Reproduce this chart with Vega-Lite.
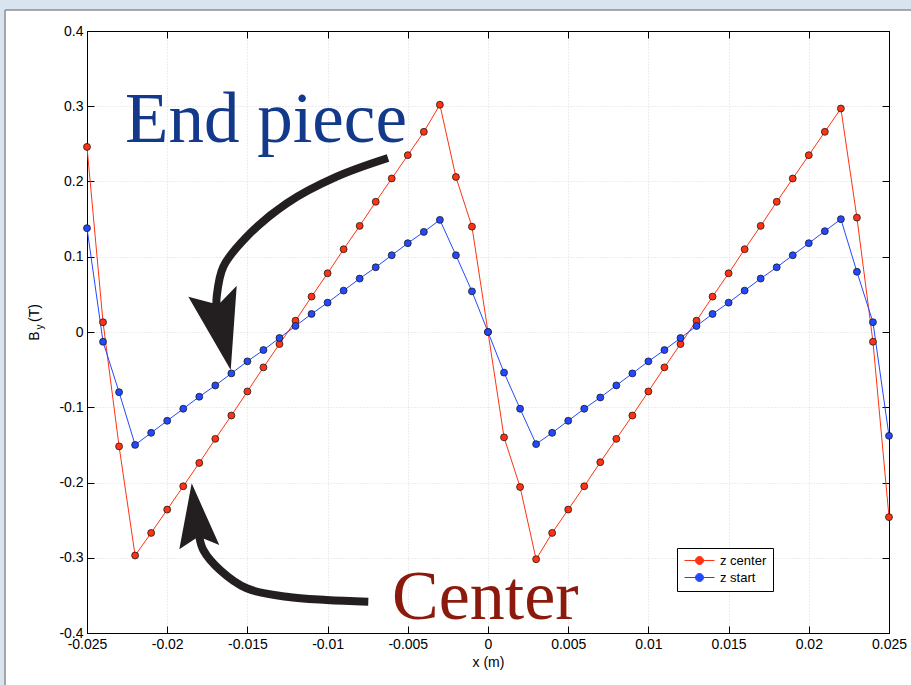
{
  "$schema": "https://vega.github.io/schema/vega-lite/v6.json",
  "width": 802,
  "height": 602,
  "autosize": {"type": "none"},
  "padding": {"left": 87, "top": 31, "right": 22, "bottom": 52},
  "background": "white",
  "config": {
    "view": {"stroke": "black", "strokeWidth": 1},
    "axis": {
      "labelFont": "Liberation Sans",
      "labelFontSize": 14,
      "labelColor": "black",
      "titleFont": "Liberation Sans",
      "titleFontSize": 14,
      "titleFontWeight": "normal",
      "titleColor": "black",
      "domainColor": "black",
      "domainWidth": 1,
      "tickColor": "black",
      "tickSize": -7,
      "tickWidth": 1,
      "gridColor": "#dadada",
      "gridDash": [1, 2],
      "gridWidth": 1,
      "labelPadding": 11,
      "labelFlush": false,
      "labelOverlap": false
    }
  },
  "datasets": {
    "field": [
      {"series": "z center", "x": -0.025, "y": 0.246},
      {"series": "z center", "x": -0.024, "y": 0.013},
      {"series": "z center", "x": -0.023, "y": -0.152},
      {"series": "z center", "x": -0.022, "y": -0.297},
      {"series": "z center", "x": -0.021, "y": -0.267},
      {"series": "z center", "x": -0.020, "y": -0.236},
      {"series": "z center", "x": -0.019, "y": -0.205},
      {"series": "z center", "x": -0.018, "y": -0.174},
      {"series": "z center", "x": -0.017, "y": -0.142},
      {"series": "z center", "x": -0.016, "y": -0.111},
      {"series": "z center", "x": -0.015, "y": -0.079},
      {"series": "z center", "x": -0.014, "y": -0.047},
      {"series": "z center", "x": -0.013, "y": -0.016},
      {"series": "z center", "x": -0.012, "y": 0.015},
      {"series": "z center", "x": -0.011, "y": 0.047},
      {"series": "z center", "x": -0.010, "y": 0.078},
      {"series": "z center", "x": -0.009, "y": 0.110},
      {"series": "z center", "x": -0.008, "y": 0.141},
      {"series": "z center", "x": -0.007, "y": 0.173},
      {"series": "z center", "x": -0.006, "y": 0.204},
      {"series": "z center", "x": -0.005, "y": 0.235},
      {"series": "z center", "x": -0.004, "y": 0.266},
      {"series": "z center", "x": -0.003, "y": 0.302},
      {"series": "z center", "x": -0.002, "y": 0.206},
      {"series": "z center", "x": -0.001, "y": 0.140},
      {"series": "z center", "x": 0.000, "y": 0.000},
      {"series": "z center", "x": 0.001, "y": -0.140},
      {"series": "z center", "x": 0.002, "y": -0.206},
      {"series": "z center", "x": 0.003, "y": -0.302},
      {"series": "z center", "x": 0.004, "y": -0.267},
      {"series": "z center", "x": 0.005, "y": -0.236},
      {"series": "z center", "x": 0.006, "y": -0.205},
      {"series": "z center", "x": 0.007, "y": -0.173},
      {"series": "z center", "x": 0.008, "y": -0.142},
      {"series": "z center", "x": 0.009, "y": -0.111},
      {"series": "z center", "x": 0.010, "y": -0.079},
      {"series": "z center", "x": 0.011, "y": -0.047},
      {"series": "z center", "x": 0.012, "y": -0.016},
      {"series": "z center", "x": 0.013, "y": 0.015},
      {"series": "z center", "x": 0.014, "y": 0.047},
      {"series": "z center", "x": 0.015, "y": 0.078},
      {"series": "z center", "x": 0.016, "y": 0.110},
      {"series": "z center", "x": 0.017, "y": 0.141},
      {"series": "z center", "x": 0.018, "y": 0.173},
      {"series": "z center", "x": 0.019, "y": 0.204},
      {"series": "z center", "x": 0.020, "y": 0.235},
      {"series": "z center", "x": 0.021, "y": 0.266},
      {"series": "z center", "x": 0.022, "y": 0.297},
      {"series": "z center", "x": 0.023, "y": 0.152},
      {"series": "z center", "x": 0.024, "y": -0.013},
      {"series": "z center", "x": 0.025, "y": -0.246},
      {"series": "z start", "x": -0.025, "y": 0.138},
      {"series": "z start", "x": -0.024, "y": -0.013},
      {"series": "z start", "x": -0.023, "y": -0.080},
      {"series": "z start", "x": -0.022, "y": -0.150},
      {"series": "z start", "x": -0.021, "y": -0.134},
      {"series": "z start", "x": -0.020, "y": -0.118},
      {"series": "z start", "x": -0.019, "y": -0.102},
      {"series": "z start", "x": -0.018, "y": -0.086},
      {"series": "z start", "x": -0.017, "y": -0.071},
      {"series": "z start", "x": -0.016, "y": -0.055},
      {"series": "z start", "x": -0.015, "y": -0.039},
      {"series": "z start", "x": -0.014, "y": -0.024},
      {"series": "z start", "x": -0.013, "y": -0.008},
      {"series": "z start", "x": -0.012, "y": 0.008},
      {"series": "z start", "x": -0.011, "y": 0.024},
      {"series": "z start", "x": -0.010, "y": 0.039},
      {"series": "z start", "x": -0.009, "y": 0.055},
      {"series": "z start", "x": -0.008, "y": 0.071},
      {"series": "z start", "x": -0.007, "y": 0.086},
      {"series": "z start", "x": -0.006, "y": 0.102},
      {"series": "z start", "x": -0.005, "y": 0.118},
      {"series": "z start", "x": -0.004, "y": 0.133},
      {"series": "z start", "x": -0.003, "y": 0.149},
      {"series": "z start", "x": -0.002, "y": 0.102},
      {"series": "z start", "x": -0.001, "y": 0.054},
      {"series": "z start", "x": 0.000, "y": 0.000},
      {"series": "z start", "x": 0.001, "y": -0.054},
      {"series": "z start", "x": 0.002, "y": -0.102},
      {"series": "z start", "x": 0.003, "y": -0.149},
      {"series": "z start", "x": 0.004, "y": -0.134},
      {"series": "z start", "x": 0.005, "y": -0.118},
      {"series": "z start", "x": 0.006, "y": -0.102},
      {"series": "z start", "x": 0.007, "y": -0.087},
      {"series": "z start", "x": 0.008, "y": -0.071},
      {"series": "z start", "x": 0.009, "y": -0.055},
      {"series": "z start", "x": 0.010, "y": -0.039},
      {"series": "z start", "x": 0.011, "y": -0.024},
      {"series": "z start", "x": 0.012, "y": -0.008},
      {"series": "z start", "x": 0.013, "y": 0.008},
      {"series": "z start", "x": 0.014, "y": 0.024},
      {"series": "z start", "x": 0.015, "y": 0.039},
      {"series": "z start", "x": 0.016, "y": 0.055},
      {"series": "z start", "x": 0.017, "y": 0.071},
      {"series": "z start", "x": 0.018, "y": 0.086},
      {"series": "z start", "x": 0.019, "y": 0.102},
      {"series": "z start", "x": 0.020, "y": 0.118},
      {"series": "z start", "x": 0.021, "y": 0.134},
      {"series": "z start", "x": 0.022, "y": 0.150},
      {"series": "z start", "x": 0.023, "y": 0.080},
      {"series": "z start", "x": 0.024, "y": 0.013},
      {"series": "z start", "x": 0.025, "y": -0.138}
    ],
    "arrowShafts": [
      {"arrow": "end", "i": 0, "x": -0.006234, "y": 0.2312},
      {"arrow": "end", "i": 1, "x": -0.009433, "y": 0.2064},
      {"arrow": "end", "i": 2, "x": -0.01255, "y": 0.1710},
      {"arrow": "end", "i": 3, "x": -0.015044, "y": 0.1266},
      {"arrow": "end", "i": 4, "x": -0.016502, "y": 0.0868},
      {"arrow": "end", "i": 5, "x": -0.016914, "y": 0.0469},
      {"arrow": "end", "i": 6, "x": -0.016926, "y": 0.0346},
      {"arrow": "center", "i": 0, "x": -0.007463, "y": -0.3584},
      {"arrow": "center", "i": 1, "x": -0.010056, "y": -0.3561},
      {"arrow": "center", "i": 2, "x": -0.01255, "y": -0.3518},
      {"arrow": "center", "i": 3, "x": -0.015044, "y": -0.3406},
      {"arrow": "center", "i": 4, "x": -0.016708, "y": -0.3163},
      {"arrow": "center", "i": 5, "x": -0.017749, "y": -0.2897},
      {"arrow": "center", "i": 6, "x": -0.017999, "y": -0.2720},
      {"arrow": "center", "i": 7, "x": -0.018017, "y": -0.2658}
    ],
    "arrowHeads": [
      {"arrow": "end", "x": -0.01604, "y": -0.0505},
      {"arrow": "center", "x": -0.018473, "y": -0.2011}
    ],
    "single": [{}]
  },
  "layer": [
    {
      "data": {"name": "single"},
      "mark": {"type": "rect", "fill": "#d9e4f1", "clip": false},
      "encoding": {
        "x": {"datum": -0.04, "type": "quantitative", "scale": {"domain": [-0.025, 0.025], "nice": false, "zero": false}, "axis": null},
        "x2": {"datum": 0.04},
        "y": {"datum": 0.4279, "type": "quantitative", "scale": {"domain": [-0.4, 0.4], "nice": false, "zero": false}, "axis": null},
        "y2": {"datum": 0.47}
      }
    },
    {
      "data": {"name": "single"},
      "mark": {"type": "rect", "fill": "#d9e4f1", "clip": false},
      "encoding": {
        "x": {"datum": -0.04, "type": "quantitative", "scale": {"domain": [-0.025, 0.025], "nice": false, "zero": false}, "axis": null},
        "x2": {"datum": -0.03011},
        "y": {"datum": 0.47, "type": "quantitative", "scale": {"domain": [-0.4, 0.4], "nice": false, "zero": false}, "axis": null},
        "y2": {"datum": -0.5}
      }
    },
    {
      "data": {"name": "single"},
      "mark": {"type": "rule", "stroke": "#8e8e8e", "strokeWidth": 1.5, "clip": false},
      "encoding": {
        "x": {"datum": -0.03011, "type": "quantitative", "scale": {"domain": [-0.025, 0.025], "nice": false, "zero": false}, "axis": null},
        "x2": {"datum": 0.04},
        "y": {"datum": 0.4279, "type": "quantitative", "scale": {"domain": [-0.4, 0.4], "nice": false, "zero": false}, "axis": null}
      }
    },
    {
      "data": {"name": "single"},
      "mark": {"type": "rule", "stroke": "#8e8e8e", "strokeWidth": 1.5, "clip": false},
      "encoding": {
        "x": {"datum": -0.03011, "type": "quantitative", "scale": {"domain": [-0.025, 0.025], "nice": false, "zero": false}, "axis": null},
        "y": {"datum": 0.4279, "type": "quantitative", "scale": {"domain": [-0.4, 0.4], "nice": false, "zero": false}, "axis": null},
        "y2": {"datum": -0.5}
      }
    },
    {
      "data": {"name": "field"},
      "mark": {"type": "line", "strokeWidth": 1},
      "encoding": {
        "x": {
          "field": "x", "type": "quantitative",
          "scale": {"domain": [-0.025, 0.025], "nice": false, "zero": false},
          "axis": {
            "orient": "bottom",
            "values": [-0.025, -0.02, -0.015, -0.01, -0.005, 0, 0.005, 0.01, 0.015, 0.02, 0.025],
            "labelExpr": "toString(datum.value)",
            "title": "x (m)",
            "titlePadding": 4,
            "grid": true
          }
        },
        "y": {
          "field": "y", "type": "quantitative",
          "scale": {"domain": [-0.4, 0.4], "nice": false, "zero": false},
          "axis": {
            "orient": "left",
            "values": [-0.4, -0.3, -0.2, -0.1, 0, 0.1, 0.2, 0.3, 0.4],
            "labelExpr": "toString(datum.value)",
            "title": null,
            "grid": true
          }
        },
        "color": {
          "field": "series", "type": "nominal",
          "scale": {"domain": ["z center", "z start"], "range": ["#ff3212", "#2448ff"]},
          "legend": {
            "title": null,
            "orient": "none",
            "legendX": 590,
            "legendY": 517,
            "padding": 6,
            "strokeColor": "black",
            "fillColor": "white",
            "labelFont": "Liberation Sans",
            "labelFontSize": 13,
            "labelColor": "black",
            "rowPadding": 3,
            "symbolType": "M-3,0H3M0.8,0A0.8,0.8,0,1,1,-0.8,0A0.8,0.8,0,1,1,0.8,0Z",
            "symbolSize": 100,
            "symbolStrokeWidth": 1,
            "symbolOffset": 10,
            "labelOffset": 14,
            "encode": {
              "symbols": {
                "update": {
                  "fill": {"scale": "color", "field": "value"},
                  "stroke": {"scale": "color", "field": "value"},
                  "opacity": {"value": 1}
                }
              }
            }
          }
        }
      }
    },
    {
      "data": {"name": "field"},
      "mark": {"type": "point", "filled": true, "size": 48, "stroke": "#1a1a1a", "strokeWidth": 0.8, "opacity": 1},
      "encoding": {
        "x": {
          "field": "x", "type": "quantitative",
          "scale": {"domain": [-0.025, 0.025], "nice": false, "zero": false},
          "axis": {
            "orient": "top",
            "values": [-0.025, -0.02, -0.015, -0.01, -0.005, 0, 0.005, 0.01, 0.015, 0.02, 0.025],
            "labels": false,
            "title": null,
            "grid": false
          }
        },
        "y": {
          "field": "y", "type": "quantitative",
          "scale": {"domain": [-0.4, 0.4], "nice": false, "zero": false},
          "axis": {
            "orient": "right",
            "values": [-0.4, -0.3, -0.2, -0.1, 0, 0.1, 0.2, 0.3, 0.4],
            "labels": false,
            "title": null,
            "grid": false
          }
        },
        "color": {"field": "series", "type": "nominal", "scale": {"domain": ["z center", "z start"], "range": ["#ff3212", "#2448ff"]}}
      }
    },
    {
      "data": {"name": "arrowShafts"},
      "mark": {"type": "line", "stroke": "#231f20", "strokeWidth": 8, "strokeCap": "butt", "interpolate": "catmull-rom"},
      "encoding": {
        "x": {"field": "x", "type": "quantitative", "scale": {"domain": [-0.025, 0.025], "nice": false, "zero": false}, "axis": null},
        "y": {"field": "y", "type": "quantitative", "scale": {"domain": [-0.4, 0.4], "nice": false, "zero": false}, "axis": null},
        "detail": {"field": "arrow"},
        "order": {"field": "i", "type": "quantitative"}
      }
    },
    {
      "data": {"name": "arrowHeads"},
      "mark": {"type": "point", "filled": true, "fill": "#231f20", "strokeWidth": 0, "size": 4, "opacity": 1},
      "encoding": {
        "x": {"field": "x", "type": "quantitative", "scale": {"domain": [-0.025, 0.025], "nice": false, "zero": false}, "axis": null},
        "y": {"field": "y", "type": "quantitative", "scale": {"domain": [-0.4, 0.4], "nice": false, "zero": false}, "axis": null},
        "shape": {
          "field": "arrow", "type": "nominal", "legend": null,
          "scale": {
            "domain": ["end", "center"],
            "range": ["M0,0L-42.4,-73.3L-18.7,-67L-10.7,-67L6,-84.3Z", "M0,0L-12.4,66L4.3,55L11,55L27.6,61.7Z"]
          }
        }
      }
    },
    {
      "data": {"name": "single"},
      "mark": {"type": "text", "text": "End piece", "font": "Liberation Serif", "fontSize": 71, "fill": "#13398a", "align": "left", "baseline": "alphabetic", "clip": false},
      "encoding": {
        "x": {"datum": -0.02263, "type": "quantitative", "scale": {"domain": [-0.025, 0.025], "nice": false, "zero": false}, "axis": null},
        "y": {"datum": 0.2525, "type": "quantitative", "scale": {"domain": [-0.4, 0.4], "nice": false, "zero": false}, "axis": null}
      }
    },
    {
      "data": {"name": "single"},
      "mark": {"type": "text", "text": "Center", "font": "Liberation Serif", "fontSize": 70, "fill": "#8b1a0c", "align": "left", "baseline": "alphabetic", "clip": false},
      "encoding": {
        "x": {"datum": -0.005985, "type": "quantitative", "scale": {"domain": [-0.025, 0.025], "nice": false, "zero": false}, "axis": null},
        "y": {"datum": -0.3814, "type": "quantitative", "scale": {"domain": [-0.4, 0.4], "nice": false, "zero": false}, "axis": null}
      }
    },
    {
      "data": {"name": "single"},
      "mark": {"type": "text", "text": "B", "font": "Liberation Sans", "fontSize": 14, "fill": "black", "angle": 270, "align": "center", "baseline": "middle", "clip": false},
      "encoding": {
        "x": {"datum": -0.028242, "type": "quantitative", "scale": {"domain": [-0.025, 0.025], "nice": false, "zero": false}, "axis": null},
        "y": {"datum": -0.0053, "type": "quantitative", "scale": {"domain": [-0.4, 0.4], "nice": false, "zero": false}, "axis": null}
      }
    },
    {
      "data": {"name": "single"},
      "mark": {"type": "text", "text": "y", "font": "Liberation Sans", "fontSize": 10, "fill": "black", "angle": 270, "align": "center", "baseline": "middle", "clip": false},
      "encoding": {
        "x": {"datum": -0.027961, "type": "quantitative", "scale": {"domain": [-0.025, 0.025], "nice": false, "zero": false}, "axis": null},
        "y": {"datum": 0.0066, "type": "quantitative", "scale": {"domain": [-0.4, 0.4], "nice": false, "zero": false}, "axis": null}
      }
    },
    {
      "data": {"name": "single"},
      "mark": {"type": "text", "text": "(T)", "font": "Liberation Sans", "fontSize": 14, "fill": "black", "angle": 270, "align": "center", "baseline": "middle", "clip": false},
      "encoding": {
        "x": {"datum": -0.028242, "type": "quantitative", "scale": {"domain": [-0.025, 0.025], "nice": false, "zero": false}, "axis": null},
        "y": {"datum": 0.0252, "type": "quantitative", "scale": {"domain": [-0.4, 0.4], "nice": false, "zero": false}, "axis": null}
      }
    }
  ],
  "resolve": {"axis": {"x": "independent", "y": "independent"}}
}
